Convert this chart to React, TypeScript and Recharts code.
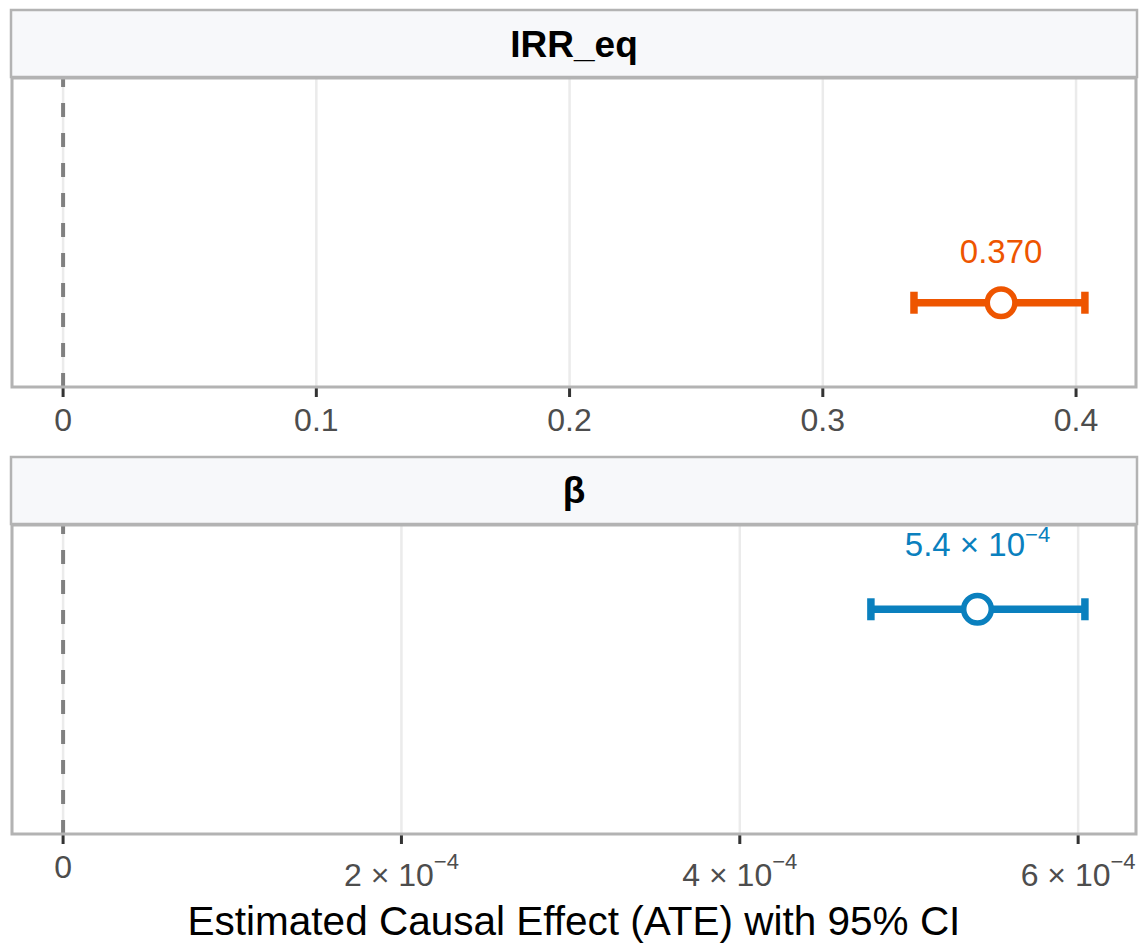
import React from 'react';
import { ComposedChart, Scatter, XAxis, YAxis, CartesianGrid, ReferenceLine, ErrorBar } from 'recharts';

// ---- data ----
const panelNames = ['IRR_eq', 'β'];
const panelColors = ['#EE5500', '#0A80BE'];
const estimates = [0.3704, 0.0005405];
const ciLower = [0.336, 0.0004775];
const ciUpper = [0.4035, 0.000604];
const yLevels = [1, 2];
const yDomain: [number, number] = [0.4, 2.6];
const labelMantissas = ['0.370', '5.4'];
const labelExponents: (number | null)[] = [null, -4];

const topTicks = [0, 0.1, 0.2, 0.3, 0.4];
const topTickLabels = ['0', '0.1', '0.2', '0.3', '0.4'];
const bottomTicks = [0, 0.0002, 0.0004, 0.0006];
const bottomTickMantissas = ['0', '2', '4', '6'];
const bottomTickExponents: (number | null)[] = [null, -4, -4, -4];

const tickSets = [
  { ticks: topTicks, mantissas: topTickLabels, exps: topTicks.map(() => null as number | null) },
  { ticks: bottomTicks, mantissas: bottomTickMantissas, exps: bottomTickExponents },
];

const FONT = '"Liberation Sans", Arial, Helvetica, sans-serif';
const W = 1148;
const CHART_H = 447;
const PLOT_TOP = 78;
const PLOT_LEFT = 12;
const PLOT_RIGHT = 12;
const AXIS_H = 60;

function domainFor(i: number): [number, number] {
  const lo = Math.min(0, ciLower[i]);
  const hi = Math.max(0, ciUpper[i]);
  const span = hi - lo;
  return [lo - 0.05 * span, hi + 0.05 * span];
}

const makeTick = (set: { ticks: number[]; mantissas: string[]; exps: (number | null)[] }) => (props: any) => {
  const { x, y, payload } = props;
  const idx = set.ticks.findIndex((t) => Math.abs(t - payload.value) < 1e-12);
  const m = set.mantissas[idx] ?? String(payload.value);
  const e = set.exps[idx];
  if (e == null) {
    return (
      <text x={x} y={y + 33.5} textAnchor="middle" fontSize={32} fill="#4D4D4D" fontFamily={FONT}>
        {m}
      </text>
    );
  }
  return (
    <text x={x} y={y + 42} textAnchor="middle" fontSize={32} fill="#4D4D4D" fontFamily={FONT}>
      <tspan>{m} × 10</tspan>
      <tspan dy={-17} fontSize={22}>{'−' + Math.abs(e)}</tspan>
    </text>
  );
};

const makePoint = (color: string) => (props: any) => {
  const { cx, cy, payload } = props;
  const e = payload.exp;
  return (
    <g>
      <circle cx={cx} cy={cy} r={13.8} fill="#FFFFFF" stroke={color} strokeWidth={5.5} />
      {e == null ? (
        <text x={cx} y={cy - 40} textAnchor="middle" fontSize={33} fill={color} fontFamily={FONT}>
          {payload.mant}
        </text>
      ) : (
        <text x={cx} y={cy - 53} textAnchor="middle" fontSize={33} fill={color} fontFamily={FONT}>
          <tspan>{payload.mant} × 10</tspan>
          <tspan dy={-14} fontSize={22}>{'−' + Math.abs(e)}</tspan>
        </text>
      )}
    </g>
  );
};

const EmptyShape = () => <g />;

function Panel({ i }: { i: number }) {
  const color = panelColors[i];
  const data = [
    {
      x: estimates[i],
      y: yLevels[i],
      err: [estimates[i] - ciLower[i], ciUpper[i] - estimates[i]],
      mant: labelMantissas[i],
      exp: labelExponents[i],
    },
  ];
  const set = tickSets[i];
  return (
    <ComposedChart
      width={W}
      height={CHART_H}
      data={data}
      margin={{ top: PLOT_TOP, right: PLOT_RIGHT, bottom: 0, left: PLOT_LEFT }}
    >
      <CartesianGrid horizontal={false} stroke="#EBEBEB" strokeWidth={2.5} />
      <XAxis
        type="number"
        dataKey="x"
        domain={domainFor(i)}
        allowDataOverflow
        ticks={set.ticks}
        interval={0}
        height={AXIS_H}
        axisLine={false}
        tickLine={{ stroke: '#333333', strokeWidth: 3 }}
        tickSize={10}
        tickMargin={0}
        tick={makeTick(set)}
      />
      <YAxis type="number" dataKey="y" domain={yDomain} hide allowDataOverflow />
      <ReferenceLine x={0} stroke="#808080" strokeWidth={4} strokeDasharray="14 16" />
      <Scatter data={data} dataKey="x" shape={EmptyShape} isAnimationActive={false}>
        <ErrorBar dataKey="err" direction="x" width={11} stroke={color} strokeWidth={7.5} isAnimationActive={false} />
      </Scatter>
      <Scatter data={data} dataKey="x" shape={makePoint(color)} isAnimationActive={false} />
    </ComposedChart>
  );
}

export default function App() {
  const stripTop = 10;
  const stripH = 67;
  return (
    <div style={{ position: 'absolute', left: 0, top: 0, width: W, height: 951, background: '#FFFFFF', fontFamily: FONT }}>
      {[0, 1].map((i) => (
        <div key={i} style={{ position: 'absolute', left: 0, top: i * CHART_H, width: W, height: CHART_H }}>
          <Panel i={i} />
        </div>
      ))}
      <svg width={W} height={951} style={{ position: 'absolute', left: 0, top: 0, pointerEvents: 'none' }}>
        {[0, 1].map((i) => {
          const off = i * CHART_H;
          return (
            <g key={i}>
              <rect x={11} y={off + stripTop} width={1126} height={stripH} fill="#F7F8FA" stroke="#B3B3B3" strokeWidth={2.5} />
              <rect
                x={PLOT_LEFT}
                y={off + PLOT_TOP}
                width={W - PLOT_LEFT - PLOT_RIGHT}
                height={CHART_H - AXIS_H - PLOT_TOP}
                fill="none"
                stroke="#B3B3B3"
                strokeWidth={3}
              />
              <text
                x={W / 2}
                y={off + (i === 0 ? 57 : 56)}
                textAnchor="middle"
                fontSize={37}
                fontWeight="bold"
                fill="#000000"
                fontFamily={FONT}
              >
                {panelNames[i]}
              </text>
            </g>
          );
        })}
        <text x={574} y={935} textAnchor="middle" fontSize={40.5} fill="#000000" fontFamily={FONT}>
          Estimated Causal Effect (ATE) with 95% CI
        </text>
      </svg>
    </div>
  );
}
